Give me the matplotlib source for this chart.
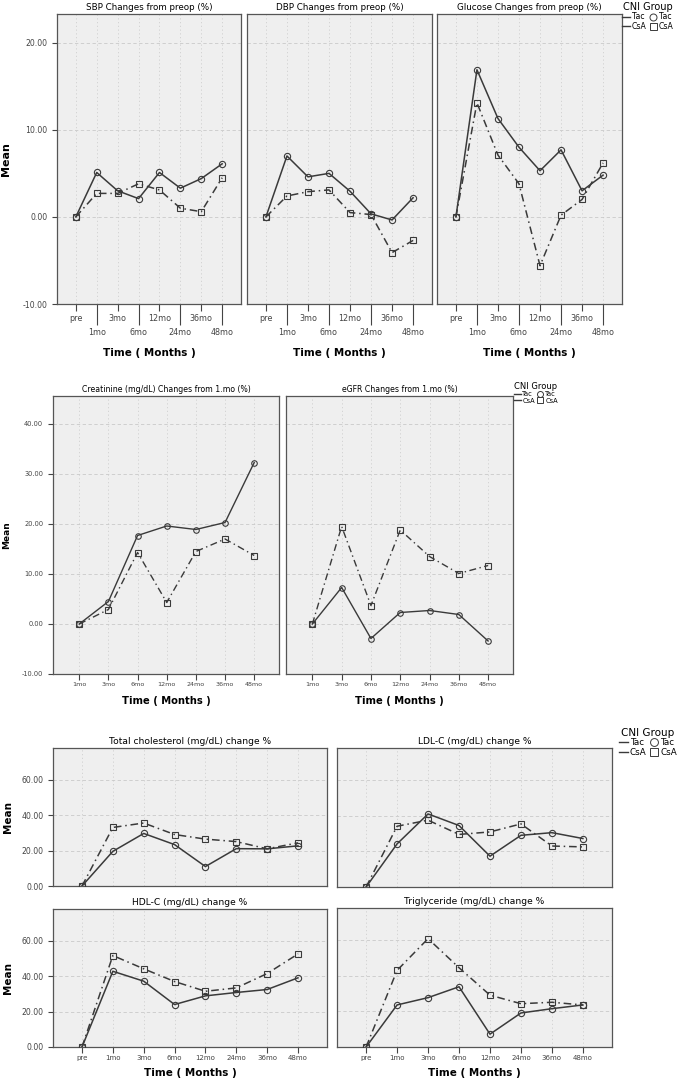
import matplotlib
matplotlib.use("Agg")
import matplotlib.pyplot as plt
from matplotlib.lines import Line2D

# time points
months8 = ["pre", "1mo", "3mo", "6mo", "12mo", "24mo", "36mo", "48mo"]
months7 = ["1mo", "3mo", "6mo", "12mo", "24mo", "36mo", "48mo"]

# blood pressure / glucose, % change from preop
sbp_tac = [0, 5.1, 3.0, 2.1, 5.1, 3.3, 4.4, 6.1]
sbp_csa = [0, 2.7, 2.7, 3.8, 3.1, 1.0, 0.6, 4.5]
dbp_tac = [0, 7.0, 4.6, 5.0, 2.95, 0.35, -0.35, 2.2]
dbp_csa = [0, 2.4, 2.9, 3.1, 0.5, 0.27, -4.1, -2.7]
glu_tac = [0, 16.9, 11.3, 8.0, 5.3, 7.7, 3.0, 4.8]
glu_csa = [0, 13.1, 7.1, 3.8, -5.6, 0.2, 2.0, 6.2]

# renal function, % change from 1 month
cre_tac = [0, 4.5, 17.7, 19.6, 18.9, 20.3, 32.3]
cre_csa = [0, 2.9, 14.3, 4.3, 14.5, 17.0, 13.7]
egfr_tac = [0, 7.3, -2.9, 2.3, 2.7, 1.9, -3.4]
egfr_csa = [0, 19.5, 3.7, 18.8, 13.5, 10.1, 11.7]

# lipids, % change
tc_tac = [0, 19.6, 29.7, 23.4, 11.0, 21.1, 21.0, 22.7]
tc_csa = [0, 33.1, 35.6, 29.1, 26.5, 25.1, 21.0, 24.4]
ldl_tac = [0, 24.2, 41.0, 34.5, 17.3, 29.0, 30.5, 27.2]
ldl_csa = [0, 34.1, 37.5, 29.5, 30.9, 35.4, 23.0, 22.5]
hdl_tac = [0, 42.8, 37.2, 24.0, 28.9, 30.8, 32.5, 39.1]
hdl_csa = [0, 51.7, 44.2, 37.0, 31.5, 33.4, 41.5, 52.6]
tg_tac = [0, 23.6, 27.7, 33.8, 7.2, 19.1, 21.5, 23.6]
tg_csa = [0, 43.0, 60.8, 44.5, 29.1, 24.3, 25.1, 23.6]

W, H = 685, 1087
BG = "#efefef"
INK = "#3a3a3a"
CSA_DASH = (0, (5, 2.5, 1, 2.5))

fig = plt.figure(figsize=(W / 100, H / 100), dpi=100)


def make_ax(x0, x1, y0, y1):
    return fig.add_axes([x0 / W, 1 - y1 / H, (x1 - x0) / W, (y1 - y0) / H])


def draw(ax, tac, csa, ms=4.5, lw=1.1):
    x = list(range(len(tac)))
    ax.set_facecolor(BG)
    ax.plot(x, tac, color=INK, lw=lw, marker="o", ms=ms, mfc="none", mec=INK, mew=0.8, zorder=3)
    ax.plot(x, csa, color=INK, lw=lw, ls=CSA_DASH, marker="s", ms=ms, mfc="none", mec=INK, mew=0.8, zorder=3)
    for s in ax.spines.values():
        s.set_color("#555555")
        s.set_linewidth(0.9)
    ax.grid(axis="y", color="#c9c9c9", ls=(0, (4, 3)), lw=0.6)
    ax.grid(axis="x", which="both", color="#cfcfcf", ls=(0, (1.5, 3)), lw=0.6)
    ax.set_axisbelow(True)
    ax.tick_params(colors="#444444", width=0.8)


def legend(x, y, fs, tfs):
    lt = Line2D([], [], color=INK, lw=1)
    lc = Line2D([], [], color=INK, lw=1)
    mt = Line2D([], [], color=INK, ls="none", marker="o", mfc="none", ms=fs * 0.9, mew=0.7)
    mc = Line2D([], [], color=INK, ls="none", marker="s", mfc="none", ms=fs * 0.9, mew=0.7)
    fig.legend(handles=[lt, lc, mt, mc], labels=["Tac", "CsA", "Tac", "CsA"], ncol=2,
               title="CNI Group", loc="upper left", bbox_to_anchor=(x / W, 1 - y / H),
               frameon=False, fontsize=fs, title_fontsize=tfs, handlelength=1.0,
               handletextpad=0.25, columnspacing=0.3, labelspacing=0.05,
               borderpad=0, borderaxespad=0)


# ---- top row
top = [("SBP Changes from preop (%)", sbp_tac, sbp_csa, 57, 241),
       ("DBP Changes from preop (%)", dbp_tac, dbp_csa, 247, 432),
       ("Glucose Changes from preop (%)", glu_tac, glu_csa, 437, 622)]
for i, (title, tac, csa, x0, x1) in enumerate(top):
    ax = make_ax(x0, x1, 14, 304)
    draw(ax, tac, csa)
    ax.set_xlim(-0.9, 7.9)
    ax.set_ylim(-10, 23.3)
    ax.set_yticks([-10, 0, 10, 20])
    ax.set_xticks([0, 2, 4, 6])
    ax.set_xticklabels(months8[0::2], fontsize=5.8)
    ax.set_xticks([1, 3, 5, 7], minor=True)
    ax.set_xticklabels(months8[1::2], minor=True, fontsize=5.8)
    ax.tick_params(axis="x", which="major", length=5, pad=2)
    ax.tick_params(axis="x", which="minor", length=15, pad=2, width=0.8, colors="#444444")
    ax.set_title(title, fontsize=6.3, pad=3)
    ax.set_xlabel("Time ( Months )", fontsize=7.5, fontweight="bold", labelpad=8)
    if i == 0:
        ax.set_yticklabels([f"{v:.2f}" for v in [-10, 0, 10, 20]], fontsize=5.6)
        ax.set_ylabel("Mean", fontsize=8, fontweight="bold", labelpad=8)
    else:
        ax.tick_params(axis="y", length=0, labelleft=False)
legend(622, 2, 5.6, 7)

# ---- middle row
mid = [("Creatinine (mg/dL) Changes from 1.mo (%)", cre_tac, cre_csa, 53, 279),
       ("eGFR Changes from 1.mo (%)", egfr_tac, egfr_csa, 286, 513)]
for i, (title, tac, csa, x0, x1) in enumerate(mid):
    ax = make_ax(x0, x1, 396, 674)
    draw(ax, tac, csa, ms=4, lw=1.0)
    ax.set_xlim(-0.9, 6.85)
    ax.set_ylim(-10, 45.6)
    ax.set_xticks(range(7))
    ax.set_xticklabels(months7, fontsize=4.6)
    ax.tick_params(axis="x", length=4, pad=2)
    ax.set_yticks([-10, 0, 10, 20, 30, 40])
    ax.set_title(title, fontsize=5.6, pad=3)
    ax.set_xlabel("Time ( Months )", fontsize=7.2, fontweight="bold", labelpad=6)
    if i == 0:
        ax.set_yticklabels([f"{v:.2f}" for v in [-10, 0, 10, 20, 30, 40]], fontsize=4.8)
        ax.set_ylabel("Mean", fontsize=6.5, fontweight="bold", labelpad=8)
    else:
        ax.tick_params(axis="y", length=0, labelleft=False)
legend(514, 382, 4.8, 6)

# ---- bottom 2x2
bot = [("Total cholesterol (mg/dL) change %", tc_tac, tc_csa, 53, 327, 748, 886, False, True),
       ("LDL-C (mg/dL) change %", ldl_tac, ldl_csa, 337, 612, 748, 887, False, False),
       ("HDL-C (mg/dL) change %", hdl_tac, hdl_csa, 53, 327, 909, 1047, True, True),
       ("Triglyceride (mg/dL) change %", tg_tac, tg_csa, 337, 612, 908, 1047, True, False)]
for title, tac, csa, x0, x1, y0, y1, xlab, ylab in bot:
    ax = make_ax(x0, x1, y0, y1)
    draw(ax, tac, csa)
    ax.set_xlim(-0.94, 7.94)
    ax.set_ylim(0, 78)
    ax.set_xticks(range(8))
    ax.set_yticks([0, 20, 40, 60])
    ax.set_title(title, fontsize=6.6, pad=3)
    if xlab:
        ax.set_xticklabels(months8, fontsize=5)
        ax.tick_params(axis="x", length=4, pad=2)
        ax.set_xlabel("Time ( Months )", fontsize=7.5, fontweight="bold", labelpad=5)
    else:
        ax.tick_params(axis="x", length=0, labelbottom=False)
    if ylab:
        ax.set_yticklabels([f"{v:.2f}" for v in [0, 20, 40, 60]], fontsize=5.6)
        ax.set_ylabel("Mean", fontsize=7.5, fontweight="bold", labelpad=6)
    else:
        ax.tick_params(axis="y", length=0, labelleft=False)
legend(619, 728, 6.3, 7.5)

fig.savefig("out.png", dpi=100, facecolor="white")
